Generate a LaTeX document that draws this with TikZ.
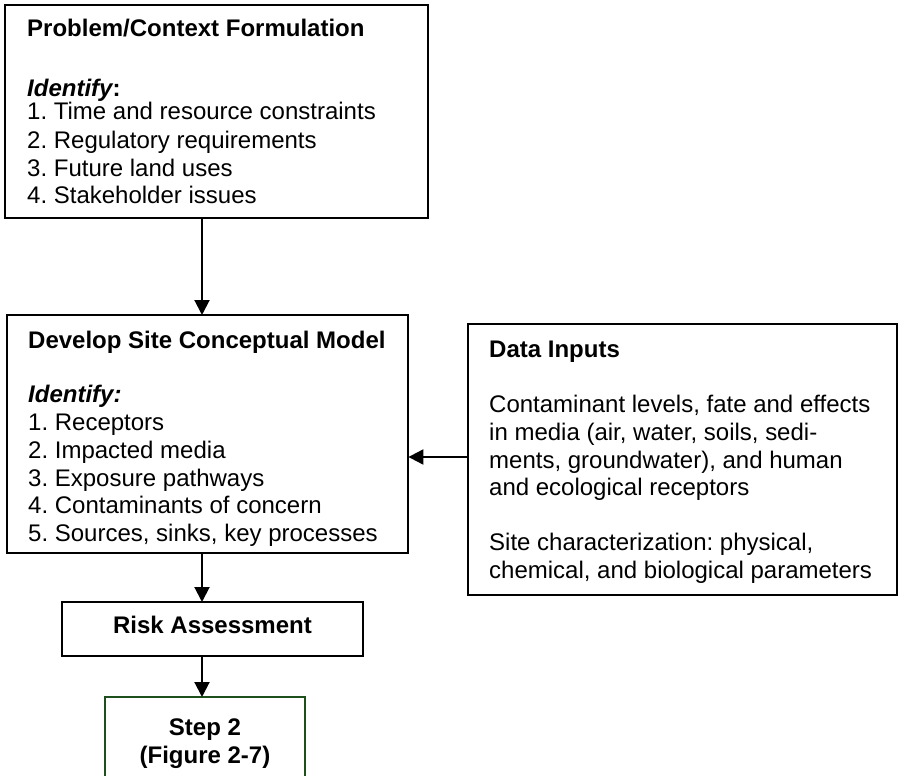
\documentclass[tikz,border=0pt]{standalone}
\usepackage{fontspec}
\setmainfont{Liberation Sans}
\usetikzlibrary{arrows.meta}
\definecolor{stepgreen}{RGB}{30,80,30}
\frenchspacing
\begin{document}
\begin{tikzpicture}[x=1pt,y=-1pt,
  box/.style={draw=black,line width=2pt,fill=white,inner sep=0pt},
  ln/.style={anchor=base west,inner sep=0pt,font=\fontsize{24}{27.7}\selectfont},
  cln/.style={anchor=base,inner sep=0pt,font=\fontsize{24}{27.7}\selectfont\bfseries},
  arr/.style={line width=2pt,-{Triangle[length=15pt,width=15pt]}}]
\useasboundingbox (0,0) rectangle (898,776);

% boxes
\draw[box] (5,5) rectangle (428,218);
\node[inner sep=0pt,minimum width=423pt,minimum height=213pt,anchor=north west] (p1) at (5,5) {};
\draw[box] (7,315) rectangle (408,553);
\node[inner sep=0pt,minimum width=401pt,minimum height=238pt,anchor=north west] (p2) at (7,315) {};
\draw[box] (468,324) rectangle (897,595);
\node[inner sep=0pt,minimum width=429pt,minimum height=271pt,anchor=north west] (din) at (468,324) {};
\draw[box] (62,602) rectangle (363,656);
\node[inner sep=0pt,minimum width=301pt,minimum height=54pt,anchor=north west] (risk) at (62,602) {};
\begin{scope}
  \clip (0,0) rectangle (898,776);
  \draw[box,draw=stepgreen] (105,697) rectangle (305,800);
\end{scope}
\node[inner sep=0pt,minimum width=200pt,minimum height=103pt,anchor=north west] (step) at (105,697) {};

% problem / context formulation
\node[ln] at (27,37) {\bfseries Problem/Context Formulation};
\node[ln] at (27,96) {\bfseries\itshape Identify\upshape :};
\node[ln] at (27,120) {1. Time and resource constraints};
\node[ln] at (27,148) {2. Regulatory requirements};
\node[ln] at (27,176) {3. Future land uses};
\node[ln] at (27,203) {4. Stakeholder issues};

% site conceptual model
\node[ln] at (28,348) {\bfseries Develop Site Conceptual Model};
\node[ln] at (28,402) {\bfseries\itshape Identify:};
\node[ln] at (28,430) {1. Receptors};
\node[ln] at (28,458) {2. Impacted media};
\node[ln] at (28,486) {3. Exposure pathways};
\node[ln] at (28,513) {4. Contaminants of concern};
\node[ln] at (28,541) {5. Sources, sinks, key processes};

% data inputs
\node[ln] at (489,357) {\bfseries Data Inputs};
\node[ln] at (489,412) {Contaminant levels, fate and effects};
\node[ln] at (489,440) {in media (air, water, soils, sedi-};
\node[ln] at (489,468) {ments, groundwater), and human};
\node[ln] at (489,495) {and ecological receptors};
\node[ln] at (489,550) {Site characterization: physical,};
\node[ln] at (489,578) {chemical, and biological parameters};

% risk assessment and next step
\node[cln] at (212.5,633) {Risk Assessment};
\node[cln] at (205,735) {Step 2};
\node[cln] at (205,763) {(Figure 2-7)};

% connectors
\coordinate (ax) at (202,0);
\coordinate (ay) at (0,457);
\draw[arr] (p1.south -| ax) -- (p2.north -| ax);
\draw[arr] (p2.south -| ax) -- (risk.north -| ax);
\draw[arr] (risk.south -| ax) -- (step.north -| ax);
\draw[arr] (din.west |- ay) -- (p2.east |- ay);
\end{tikzpicture}
\end{document}
